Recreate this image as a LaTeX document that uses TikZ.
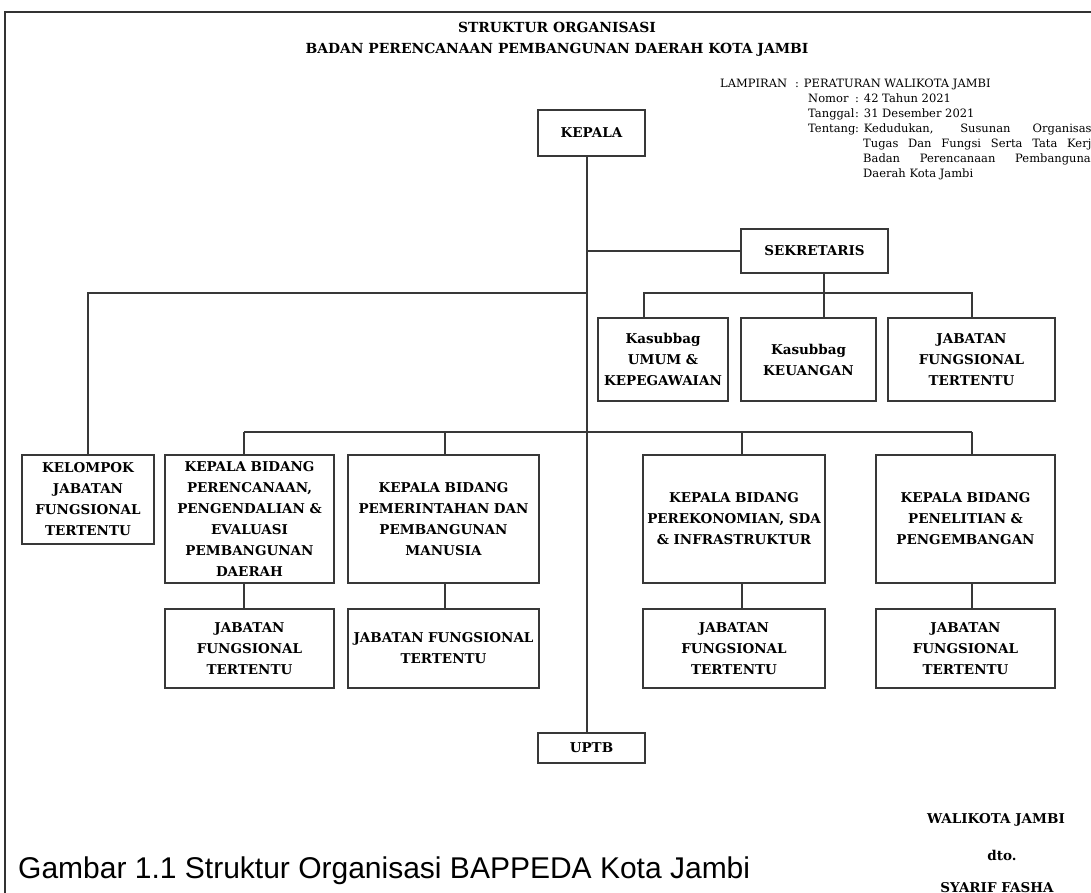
\documentclass[tikz,border=0pt]{standalone}
\usepackage{fontspec}
\setmainfont{DejaVu Serif}
\newfontfamily\captionfont{Liberation Sans}
\begin{document}
\begin{tikzpicture}[x=1pt,y=-1pt,
        box/.style 2 args={draw=black!78, line width=1.1pt, inner sep=0pt,
            align=center, text width=#1, minimum height=#2,
            font=\fontsize{13.5}{21}\selectfont\bfseries},
        head/.style={anchor=base, font=\fontsize{13.9}{17}\selectfont\bfseries},
        sign/.style={anchor=base, font=\fontsize{13.5}{16}\selectfont\bfseries},
        link/.style={draw=black!78, line width=1.1pt}]
                \useasboundingbox (0,0) rectangle (1091,893);
                \draw[black!80, line width=1.5pt] (5,893) -- (5,12) -- (1091,12);

                \node[head] (judul) at (557,33) {STRUKTUR ORGANISASI};
                \node[head] (badan) at (557,54)
                    {BADAN PERENCANAAN PEMBANGUNAN DAERAH KOTA JAMBI};

                \node[anchor=north west, inner sep=0pt, align=left,
                    font=\fontsize{11.5}{15}\selectfont] (lampiran) at (720,79) {%
                    \makebox[75pt][l]{LAMPIRAN}: PERATURAN WALIKOTA JAMBI\\
                    \hspace*{88pt}\makebox[47pt][l]{Nomor}: 42 Tahun 2021\\
                    \hspace*{88pt}\makebox[47pt][l]{Tanggal}: 31 Desember 2021\\
                    \hspace*{88pt}\makebox[47pt][l]{Tentang}: \makebox[235pt][s]{Kedudukan, Susunan Organisasi,}\\
                    \hspace*{143pt}\makebox[235pt][s]{Tugas Dan Fungsi Serta Tata Kerja}\\
                    \hspace*{143pt}\makebox[235pt][s]{Badan Perencanaan Pembangunan}\\
                    \hspace*{143pt}Daerah Kota Jambi};

                % pimpinan dan sekretariat
                \node[box={107pt}{46pt}] (kepala) at (591.5,133) {KEPALA};
                \node[box={147pt}{44pt}] (sekretaris) at (814.5,251) {SEKRETARIS};
                \node[box={130pt}{83pt}] (umum) at (663,359.5)
                    {Kasubbag\\UMUM \&\\KEPEGAWAIAN};
                \node[box={135pt}{83pt}] (keuangan) at (808.5,359.5)
                    {Kasubbag\\KEUANGAN};
                \node[box={167pt}{83pt}] (jfsek) at (971.5,359.5)
                    {JABATAN\\FUNGSIONAL\\TERTENTU};

                % bidang
                \node[box={132pt}{89pt}] (kelompok) at (88,499.5)
                    {KELOMPOK\\JABATAN\\FUNGSIONAL\\TERTENTU};
                \node[box={169pt}{128pt}] (bidrenc) at (249.5,519)
                    {KEPALA BIDANG\\PERENCANAAN,\\PENGENDALIAN \&\\EVALUASI\\PEMBANGUNAN\\DAERAH};
                \node[box={191pt}{128pt}] (bidpem) at (443.5,519)
                    {KEPALA BIDANG\\PEMERINTAHAN DAN\\PEMBANGUNAN\\MANUSIA};
                \node[box={182pt}{128pt}] (bideko) at (734,519)
                    {KEPALA BIDANG\\PEREKONOMIAN, SDA\\\& INFRASTRUKTUR};
                \node[box={179pt}{128pt}] (bidlit) at (965.5,519)
                    {KEPALA BIDANG\\PENELITIAN \&\\PENGEMBANGAN};

                \node[box={169pt}{79pt}] (jfrenc) at (249.5,648.5)
                    {JABATAN\\FUNGSIONAL\\TERTENTU};
                \node[box={191pt}{79pt}] (jfpem) at (443.5,648.5)
                    {JABATAN FUNGSIONAL\\TERTENTU};
                \node[box={182pt}{79pt}] (jfeko) at (734,648.5)
                    {JABATAN\\FUNGSIONAL\\TERTENTU};
                \node[box={179pt}{79pt}] (jflit) at (965.5,648.5)
                    {JABATAN\\FUNGSIONAL\\TERTENTU};

                \node[box={107pt}{30pt}] (uptb) at (591.5,748) {UPTB};

                % garis
                \coordinate (spine) at (587,0);
                \coordinate (leftbar) at (587,293);
                \coordinate (sekbarL) at (644,293);
                \coordinate (sekbarR) at (972,293);
                \coordinate (sekdrop) at (824,0);
                \coordinate (bidbarL) at (244,432);
                \coordinate (bidbarR) at (972,432);

                \draw[link] (kepala.south -| spine) -- (uptb.north -| spine);
                \draw[link] (spine |- sekretaris.west) -- (sekretaris.west);
                \draw[link] (kelompok.north) |- (leftbar);
                \draw[link] (sekdrop |- sekretaris.south) -- (sekdrop |- keuangan.north);
                \draw[link] (sekbarL |- umum.north) -- (sekbarL) -- (sekbarR)
                    -- (sekbarR |- jfsek.north);
                \draw[link] (bidbarL) -- (bidbarR);
                \foreach \b/\j/\x in {bidrenc/jfrenc/244, bidpem/jfpem/445,
                        bideko/jfeko/742, bidlit/jflit/972} {
                    \draw[link] (\x,432) -- (\x,432 |- \b.north);
                    \draw[link] (\x,0 |- \b.south) -- (\x,0 |- \j.north);
                }

                \node[anchor=base west, inner sep=0pt,
                    font=\captionfont\fontsize{30}{36}\selectfont] (gambar) at (18,878)
                    {Gambar 1.1 Struktur Organisasi BAPPEDA Kota Jambi};

                \node[sign] (walikota) at (996,823) {WALIKOTA JAMBI};
                \node[sign] (dto) at (1002,860) {dto.};
                \node[sign] (syarif) at (997,892) {SYARIF FASHA};
\end{tikzpicture}
\end{document}
